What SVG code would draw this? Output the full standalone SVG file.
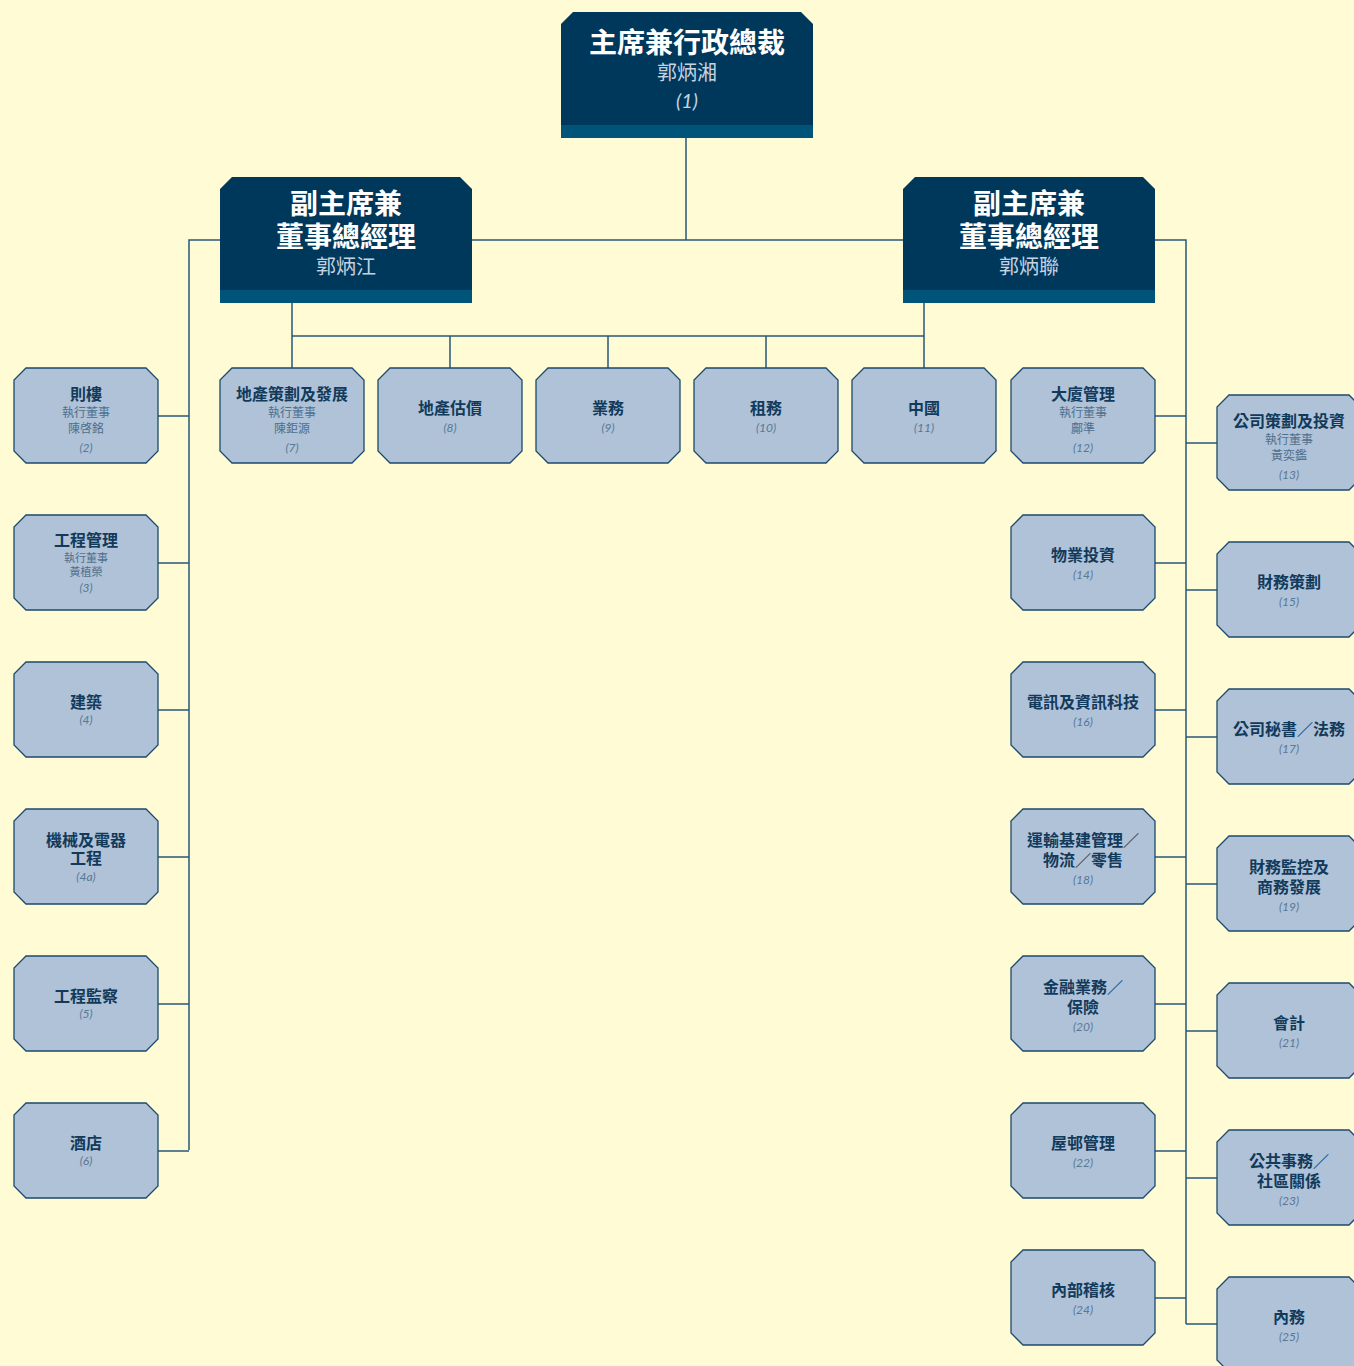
<svg xmlns="http://www.w3.org/2000/svg" width="1354" height="1366" viewBox="0 0 1354 1366">
<defs>
<style>
.bg{fill:#FFFBD5}
.n{fill:#AFC2D8;stroke:#1C4A6C;stroke-width:1.3}
.d{fill:#00385C}
.s{fill:#005479}
.c{fill:none;stroke:#2A5777;stroke-width:1.5}
text{font-family:"Noto Sans CJK TC","Noto Sans CJK SC",sans-serif;text-anchor:middle}
.t{font-size:16px;font-weight:bold;fill:#123A5B}
.u{font-size:12px;fill:#4E6F8D}
.v{font-size:11px;fill:#4E6F8D}
.k{font-family:Lato,"Open Sans",sans-serif;font-size:12px;font-style:italic;fill:#587896}
.T{font-size:28px;font-weight:bold;fill:#FFFFFF}
.N{font-size:20px;fill:#C5D3E1}
.K{font-family:Lato,"Open Sans",sans-serif;font-size:20px;font-style:italic;fill:#C5D3E1}
</style>
<path id="oct" d="M12,0 H132 L144,12 V83 L132,95 H12 L0,83 V12 Z"/>
<path id="big" d="M12,0 H240 L252,12 V126 H0 V12 Z"/>
</defs>
<rect class="bg" x="0" y="0" width="1354" height="1366"/>

<g id="connectors" class="c">
<path d="M686,137 V240 M472,240 H903 M220,240 H189 V1150 M1155,240 H1186 V1324"/>
<path d="M292,303 V368 M292,336 H924 M924,303 V368 M450,336 V368 M608,336 V368 M766,336 V368"/>
<path d="M158,416 H189 M158,563 H189 M158,710 H189 M158,857 H189 M158,1004 H189 M158,1151 H189"/>
<path d="M1155,416 H1186 M1155,563 H1186 M1155,710 H1186 M1155,857 H1186 M1155,1004 H1186 M1155,1151 H1186 M1155,1298 H1186"/>
<path d="M1186,443 H1217 M1186,590 H1217 M1186,737 H1217 M1186,884 H1217 M1186,1031 H1217 M1186,1178 H1217 M1186,1324 H1217"/>
</g>

<g id="n1" transform="translate(561,12)">
<use href="#big" class="d"/><rect class="s" x="0" y="113" width="252" height="13"/>
<text class="T" x="126" y="41">主席兼行政總裁</text>
<text class="N" x="126" y="68">郭炳湘</text>
<text class="K" x="126" y="96">(1)</text>
</g>
<g id="vl" transform="translate(220,177)">
<use href="#big" class="d"/><rect class="s" x="0" y="113" width="252" height="13"/>
<text class="T" x="126" y="37">副主席兼</text>
<text class="T" x="126" y="70">董事總經理</text>
<text class="N" x="126" y="97">郭炳江</text>
</g>
<g id="vr" transform="translate(903,177)">
<use href="#big" class="d"/><rect class="s" x="0" y="113" width="252" height="13"/>
<text class="T" x="126" y="37">副主席兼</text>
<text class="T" x="126" y="70">董事總經理</text>
<text class="N" x="126" y="97">郭炳聯</text>
</g>

<!-- left column -->
<g id="n2" transform="translate(14,368)"><use href="#oct" class="n"/>
<text class="t" x="72" y="32">則樓</text><text class="u" x="72" y="49">執行董事</text><text class="u" x="72" y="65">陳啓銘</text><text class="k" x="72" y="84">(2)</text></g>
<g id="n3" transform="translate(14,515)"><use href="#oct" class="n"/>
<text class="t" x="72" y="31">工程管理</text><text class="v" x="72" y="47">執行董事</text><text class="v" x="72" y="61">黃植榮</text><text class="k" x="72" y="77">(3)</text></g>
<g id="n4" transform="translate(14,662)"><use href="#oct" class="n"/>
<text class="t" x="72" y="46">建築</text><text class="k" x="72" y="62">(4)</text></g>
<g id="n4a" transform="translate(14,809)"><use href="#oct" class="n"/>
<text class="t" x="72" y="37">機械及電器</text><text class="t" x="72" y="55">工程</text><text class="k" x="72" y="72">(4a)</text></g>
<g id="n5" transform="translate(14,956)"><use href="#oct" class="n"/>
<text class="t" x="72" y="46">工程監察</text><text class="k" x="72" y="62">(5)</text></g>
<g id="n6" transform="translate(14,1103)"><use href="#oct" class="n"/>
<text class="t" x="72" y="46">酒店</text><text class="k" x="72" y="62">(6)</text></g>

<!-- middle row -->
<g id="n7" transform="translate(220,368)"><use href="#oct" class="n"/>
<text class="t" x="72" y="32">地產策劃及發展</text><text class="u" x="72" y="49">執行董事</text><text class="u" x="72" y="65">陳鉅源</text><text class="k" x="72" y="84">(7)</text></g>
<g id="n8" transform="translate(378,368)"><use href="#oct" class="n"/>
<text class="t" x="72" y="46">地產估價</text><text class="k" x="72" y="64">(8)</text></g>
<g id="n9" transform="translate(536,368)"><use href="#oct" class="n"/>
<text class="t" x="72" y="46">業務</text><text class="k" x="72" y="64">(9)</text></g>
<g id="n10" transform="translate(694,368)"><use href="#oct" class="n"/>
<text class="t" x="72" y="46">租務</text><text class="k" x="72" y="64">(10)</text></g>
<g id="n11" transform="translate(852,368)"><use href="#oct" class="n"/>
<text class="t" x="72" y="46">中國</text><text class="k" x="72" y="64">(11)</text></g>

<!-- right column 1 -->
<g id="n12" transform="translate(1011,368)"><use href="#oct" class="n"/>
<text class="t" x="72" y="32">大廈管理</text><text class="u" x="72" y="49">執行董事</text><text class="u" x="72" y="65">鄺準</text><text class="k" x="72" y="84">(12)</text></g>
<g id="n14" transform="translate(1011,515)"><use href="#oct" class="n"/>
<text class="t" x="72" y="46">物業投資</text><text class="k" x="72" y="64">(14)</text></g>
<g id="n16" transform="translate(1011,662)"><use href="#oct" class="n"/>
<text class="t" x="72" y="46">電訊及資訊科技</text><text class="k" x="72" y="64">(16)</text></g>
<g id="n18" transform="translate(1011,809)"><use href="#oct" class="n"/>
<text class="t" x="72" y="37">運輸基建管理／</text><text class="t" x="72" y="57">物流／零售</text><text class="k" x="72" y="75">(18)</text></g>
<g id="n20" transform="translate(1011,956)"><use href="#oct" class="n"/>
<text class="t" x="72" y="37">金融業務／</text><text class="t" x="72" y="57">保險</text><text class="k" x="72" y="75">(20)</text></g>
<g id="n22" transform="translate(1011,1103)"><use href="#oct" class="n"/>
<text class="t" x="72" y="46">屋邨管理</text><text class="k" x="72" y="64">(22)</text></g>
<g id="n24" transform="translate(1011,1250)"><use href="#oct" class="n"/>
<text class="t" x="72" y="46">內部稽核</text><text class="k" x="72" y="64">(24)</text></g>

<!-- right column 2 -->
<g id="n13" transform="translate(1217,395)"><use href="#oct" class="n"/>
<text class="t" x="72" y="32">公司策劃及投資</text><text class="u" x="72" y="49">執行董事</text><text class="u" x="72" y="65">黃奕鑑</text><text class="k" x="72" y="84">(13)</text></g>
<g id="n15" transform="translate(1217,542)"><use href="#oct" class="n"/>
<text class="t" x="72" y="46">財務策劃</text><text class="k" x="72" y="64">(15)</text></g>
<g id="n17" transform="translate(1217,689)"><use href="#oct" class="n"/>
<text class="t" x="72" y="46">公司秘書／法務</text><text class="k" x="72" y="64">(17)</text></g>
<g id="n19" transform="translate(1217,836)"><use href="#oct" class="n"/>
<text class="t" x="72" y="37">財務監控及</text><text class="t" x="72" y="57">商務發展</text><text class="k" x="72" y="75">(19)</text></g>
<g id="n21" transform="translate(1217,983)"><use href="#oct" class="n"/>
<text class="t" x="72" y="46">會計</text><text class="k" x="72" y="64">(21)</text></g>
<g id="n23" transform="translate(1217,1130)"><use href="#oct" class="n"/>
<text class="t" x="72" y="37">公共事務／</text><text class="t" x="72" y="57">社區關係</text><text class="k" x="72" y="75">(23)</text></g>
<g id="n25" transform="translate(1217,1277)"><use href="#oct" class="n"/>
<text class="t" x="72" y="46">內務</text><text class="k" x="72" y="64">(25)</text></g>
</svg>
